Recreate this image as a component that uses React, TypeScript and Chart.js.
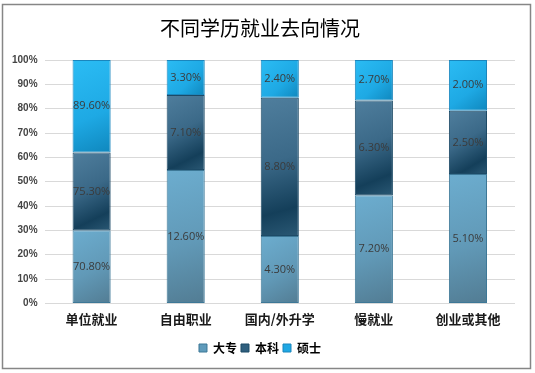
import React, { useEffect, useRef } from "react";
import { Chart, registerables } from "chart.js";

Chart.register(...registerables);

const title = "不同学历就业去向情况";
const categories = ["单位就业", "自由职业", "国内/外升学", "慢就业", "创业或其他"];
const seriesNames = ["大专", "本科", "硕士"];
const dazhuan = [70.8, 12.6, 4.3, 7.2, 5.1];
const benke = [75.3, 7.1, 8.8, 6.3, 2.5];
const shuoshi = [89.6, 3.3, 2.4, 2.7, 2.0];
const yTickStep = 10;

const rawSeries = [dazhuan, benke, shuoshi];
const totals = categories.map((_, i) => rawSeries.reduce((s, arr) => s + arr[i], 0));
const shares = rawSeries.map((arr) => arr.map((v, i) => (v / totals[i]) * 100));

const solidColors = ["#5f9bbb", "#2f5f7e", "#1fa8e4"];
const borderColors = ["#3d7897", "#1d4a66", "#1a86bd"];
const gradientStops: [number, string][][] = [
  [[0, "#6cadcf"], [0.55, "#6199b7"], [1, "#527c93"]],
  [[0, "#4f7e9d"], [0.45, "#3b6988"], [0.8, "#143f5a"], [1, "#2a5874"]],
  [[0, "#2bbcf4"], [0.6, "#1ea9e4"], [1, "#0f87bd"]],
];

function makeBg(dsIndex: number) {
  return (ctx: any) => {
    if (ctx.type !== "data") return solidColors[dsIndex];
    const chart = ctx.chart;
    const xs = chart.scales.x;
    const ys = chart.scales.y;
    if (!xs || !ys || !chart.chartArea) return solidColors[dsIndex];
    const i = ctx.dataIndex;
    let start = 0;
    for (let d = 0; d < dsIndex; d++) start += shares[d][i];
    const end = start + shares[dsIndex][i];
    const cx = xs.getPixelForValue(i);
    const w = (xs.width / categories.length) * 0.405;
    const top = ys.getPixelForValue(end);
    const bottom = ys.getPixelForValue(start);
    if (!isFinite(cx) || !isFinite(top) || !isFinite(bottom)) return solidColors[dsIndex];
    const g = chart.ctx.createLinearGradient(cx - w / 2, top, cx + w / 2, bottom);
    gradientStops[dsIndex].forEach(([o, c]) => g.addColorStop(o, c));
    return g;
  };
}

const labelPlugin = {
  id: "valueLabels",
  afterDatasetsDraw(chart: any) {
    const ctx = chart.ctx;
    ctx.save();
    ctx.font = "11px 'Open Sans', 'Liberation Sans', sans-serif";
    ctx.fillStyle = "#3b3b3b";
    ctx.textAlign = "center";
    ctx.textBaseline = "middle";
    chart.data.datasets.forEach((ds: any, di: number) => {
      const meta = chart.getDatasetMeta(di);
      meta.data.forEach((el: any, i: number) => {
        const y = (el.y + el.base) / 2;
        ctx.fillText(rawSeries[di][i].toFixed(2) + "%", el.x, y);
      });
    });
    ctx.restore();
  },
};

const framePlugin = {
  id: "frame",
  afterDraw(chart: any) {
    const ctx = chart.ctx;
    ctx.save();
    ctx.strokeStyle = "#868686";
    ctx.lineWidth = 1.5;
    ctx.strokeRect(2.5, 4.5, 528, 364);
    ctx.restore();
  },
};

export default function App() {
  const ref = useRef<HTMLCanvasElement | null>(null);
  useEffect(() => {
    document.body.style.margin = "0";
    if (!ref.current) return;
    const chart = new Chart(ref.current, {
      type: "bar",
      data: {
        labels: categories,
        datasets: seriesNames.map((name, di) => ({
          label: name,
          data: shares[di],
          backgroundColor: makeBg(di),
          borderColor: borderColors[di],
          borderWidth: 1,
          borderSkipped: false,
          categoryPercentage: 1,
          barPercentage: 0.405,
        })),
      },
      options: {
        responsive: false,
        animation: false,
        devicePixelRatio: 1,
        layout: { padding: { top: 4, left: 5, right: 20, bottom: 9 } },
        plugins: {
          title: {
            display: true,
            text: title,
            color: "#000",
            font: { family: "'Noto Sans CJK SC'", size: 20, weight: "normal" },
            padding: { top: 12, bottom: 20 },
          },
          legend: {
            position: "bottom",
            labels: {
              boxWidth: 8,
              boxHeight: 8,
              padding: 4,
              color: "#222",
              font: { family: "'Noto Sans CJK SC'", size: 12, weight: "bold" },
              generateLabels: (c: any) =>
                seriesNames.map((n, di) => ({
                  text: n,
                  fillStyle: solidColors[di],
                  strokeStyle: borderColors[di],
                  lineWidth: 1,
                  hidden: false,
                  datasetIndex: di,
                })),
            },
          },
          tooltip: { enabled: false },
        },
        scales: {
          x: {
            stacked: true,
            grid: { display: false },
            border: { display: false },
            afterFit: (scale: any) => {
              scale.height += 11;
            },
            ticks: {
              color: "#1a1a1a",
              padding: 0,
              font: { family: "'Noto Sans CJK SC'", size: 13, weight: "bold" },
            },
          },
          y: {
            stacked: true,
            min: 0,
            max: 100,
            grid: { color: "#d9d9d9", drawTicks: false },
            border: { display: false },
            ticks: {
              stepSize: yTickStep,
              padding: 7,
              color: "#444",
              font: { family: "'Liberation Sans', sans-serif", size: 10, weight: "bold" },
              callback: (v: any) => v + "%",
            },
          },
        },
      },
      plugins: [labelPlugin, framePlugin],
    });
    return () => chart.destroy();
  }, []);
  return (
    <div style={{ width: 535, height: 373 }}>
      <canvas ref={ref} width={535} height={373} style={{ display: "block" }} />
    </div>
  );
}
